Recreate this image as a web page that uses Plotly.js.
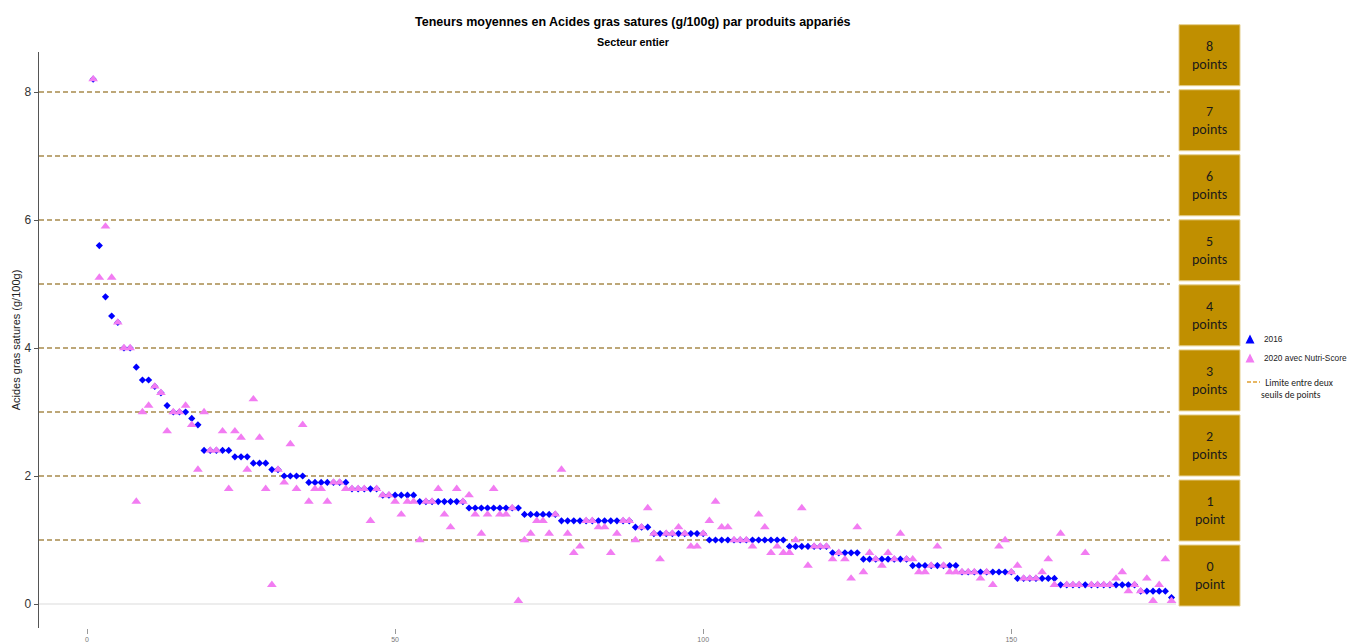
<!DOCTYPE html>
<html>
<head>
<meta charset="utf-8">
<script src="https://cdn.plot.ly/plotly-3.0.1.min.js"></script>
<style>html,body{margin:0;padding:0;background:#fff;}#chart{width:1348px;height:643px;}</style>
</head>
<body>
<div id="chart"></div>
<script>
// ---- data ----
const valeurs2016 = [
  8.2,5.6,4.8,4.5,4.4,4.0,4.0,3.7,3.5,3.5,
  3.4,3.3,3.1,3.0,3.0,3.0,2.9,2.8,2.4,2.4,
  2.4,2.4,2.4,2.3,2.3,2.3,2.2,2.2,2.2,2.1,
  2.1,2.0,2.0,2.0,2.0,1.9,1.9,1.9,1.9,1.9,
  1.9,1.9,1.8,1.8,1.8,1.8,1.8,1.7,1.7,1.7,
  1.7,1.7,1.7,1.6,1.6,1.6,1.6,1.6,1.6,1.6,
  1.6,1.5,1.5,1.5,1.5,1.5,1.5,1.5,1.5,1.5,
  1.4,1.4,1.4,1.4,1.4,1.4,1.3,1.3,1.3,1.3,
  1.3,1.3,1.3,1.3,1.3,1.3,1.3,1.3,1.2,1.2,
  1.2,1.1,1.1,1.1,1.1,1.1,1.1,1.1,1.1,1.1,
  1.0,1.0,1.0,1.0,1.0,1.0,1.0,1.0,1.0,1.0,
  1.0,1.0,1.0,0.9,0.9,0.9,0.9,0.9,0.9,0.9,
  0.8,0.8,0.8,0.8,0.8,0.7,0.7,0.7,0.7,0.7,
  0.7,0.7,0.7,0.6,0.6,0.6,0.6,0.6,0.6,0.6,
  0.6,0.5,0.5,0.5,0.5,0.5,0.5,0.5,0.5,0.5,
  0.4,0.4,0.4,0.4,0.4,0.4,0.4,0.3,0.3,0.3,
  0.3,0.3,0.3,0.3,0.3,0.3,0.3,0.3,0.3,0.3,
  0.2,0.2,0.2,0.2,0.2,0.1
];
const valeurs2020 = [
  8.2,5.1,5.9,5.1,4.4,4.0,4.0,1.6,3.0,3.1,
  3.4,3.3,2.7,3.0,3.0,3.1,2.8,2.1,3.0,2.4,
  2.4,2.7,1.8,2.7,2.6,2.1,3.2,2.6,1.8,0.3,
  2.1,1.9,2.5,1.8,2.8,1.6,1.8,1.8,1.6,1.9,
  1.9,1.8,1.8,1.8,1.8,1.3,1.8,1.7,1.7,1.6,
  1.4,1.6,1.6,1.0,1.6,1.6,1.8,1.4,1.2,1.8,
  1.6,1.7,1.4,1.1,1.4,1.8,1.4,1.4,1.5,0.05,
  1.0,1.1,1.3,1.3,1.1,1.4,2.1,1.1,0.8,0.9,
  1.3,1.3,1.2,1.2,0.8,1.1,1.3,1.3,1.0,1.2,
  1.5,1.1,0.7,1.1,1.1,1.2,1.1,0.9,0.9,1.1,
  1.3,1.6,1.2,1.2,1.0,1.0,1.0,0.9,1.4,1.2,
  0.8,0.9,0.8,0.8,1.0,1.5,0.6,0.9,0.9,0.9,
  0.7,0.8,0.7,0.4,1.2,0.5,0.8,0.7,0.6,0.8,
  0.7,1.1,0.7,0.7,0.5,0.5,0.6,0.9,0.6,0.5,
  0.5,0.5,0.5,0.5,0.4,0.5,0.3,0.9,1.0,0.5,
  0.6,0.4,0.4,0.4,0.5,0.7,0.3,1.1,0.3,0.3,
  0.3,0.8,0.3,0.3,0.3,0.3,0.4,0.5,0.2,0.3,
  0.2,0.4,0.05,0.3,0.7,0.05
];
const produits = valeurs2016.map((_, i) => i + 1);
const seuils = [1, 2, 3, 4, 5, 6, 7, 8];
const niveauxPoints = [0, 1, 2, 3, 4, 5, 6, 7, 8];
const etiquettesPoints = ["0<br>point", "1<br>point", "2<br>points", "3<br>points", "4<br>points",
                          "5<br>points", "6<br>points", "7<br>points", "8<br>points"];
const nomsSeries = ["2016", "2020 avec Nutri-Score", "Limite entre deux<br>seuils de points"];
const xTicks = [0, 50, 100, 150];
const yTicks = [0, 2, 4, 6, 8];

// ---- layout geometry (pixels) ----
const W = 1348, H = 643;
const L = 39, R = 1176, T = 52, B = 628;
const PW = R - L, PH = B - T;
const px2x = px => (px - L) / PW;
const py2y = py => (B - py) / PH;

const gold = '#C08F00';
const lineGold = '#A88B4C';
const violet = '#F27CF2';
const fontArial = '"Liberation Sans", Arial, sans-serif';
const fontCal = 'Carlito, "Noto Sans", sans-serif';

const traces = [
  {
    x: produits, y: valeurs2016, type: 'scatter', mode: 'markers', name: nomsSeries[0],
    marker: {symbol: 'diamond', size: 5.5, color: '#0000FF'}, showlegend: false, cliponaxis: false
  },
  {
    x: produits, y: valeurs2020, type: 'scatter', mode: 'markers', name: nomsSeries[1],
    marker: {symbol: 'triangle-up', size: 8.5, color: violet}, showlegend: false, cliponaxis: false
  }
];

const shapes = [];
const annotations = [];

// threshold lines
seuils.forEach(s => {
  shapes.push({type: 'line', xref: 'paper', yref: 'y', x0: 0, x1: px2x(1170), y0: s, y1: s,
    line: {color: lineGold, width: 1.6, dash: '5px,3px'}, layer: 'below'});
});

// points boxes
niveauxPoints.forEach((k, i) => {
  const top = 24.7 + (8 - k) * 65.04;
  const bot = top + 61;
  shapes.push({type: 'rect', xref: 'paper', yref: 'paper', x0: px2x(1179), x1: px2x(1240),
    y0: py2y(bot), y1: py2y(top), fillcolor: gold, line: {color: '#E6CF8E', width: 1}});
  annotations.push({xref: 'paper', yref: 'paper', x: px2x(1209.5), y: py2y((top + bot) / 2),
    xanchor: 'center', yanchor: 'middle',
    text: etiquettesPoints[i], showarrow: false, align: 'center',
    font: {family: fontCal, size: 14, color: '#1A1A1A'}});
});

// title + subtitle
annotations.push({xref: 'paper', yref: 'paper', x: px2x(633), y: py2y(22), xanchor: 'center', yanchor: 'middle',
  text: '<b>Teneurs moyennes en Acides gras satures (g/100g) par produits appariés</b>', showarrow: false,
  font: {family: fontArial, size: 12.5, color: '#000'}});
annotations.push({xref: 'paper', yref: 'paper', x: px2x(633), y: py2y(42), xanchor: 'center', yanchor: 'middle',
  text: '<b>Secteur entier</b>', showarrow: false,
  font: {family: fontArial, size: 10.8, color: '#000'}});

// manual legend
function tri(cx, cy, w, h, color) {
  const x0 = px2x(cx - w / 2), x1 = px2x(cx + w / 2), xm = px2x(cx);
  const yb = py2y(cy + h / 2), yt = py2y(cy - h / 2);
  shapes.push({type: 'path', xref: 'paper', yref: 'paper',
    path: `M ${x0} ${yb} L ${x1} ${yb} L ${xm} ${yt} Z`, fillcolor: color, line: {width: 0}});
}
tri(1250, 339, 9, 9, '#0000FF');
tri(1250, 358, 9, 9, violet);
shapes.push({type: 'line', xref: 'paper', yref: 'paper', x0: px2x(1247), x1: px2x(1260),
  y0: py2y(382), y1: py2y(382), line: {color: '#E0A030', width: 1.5, dash: '4px,2px'}});
annotations.push({xref: 'paper', yref: 'paper', x: px2x(1262), y: py2y(339), xanchor: 'left', yanchor: 'middle',
  text: nomsSeries[0], showarrow: false,
  font: {family: fontArial, size: 8.3, color: '#222'}});
annotations.push({xref: 'paper', yref: 'paper', x: px2x(1262), y: py2y(358), xanchor: 'left', yanchor: 'middle',
  text: nomsSeries[1], showarrow: false,
  font: {family: fontArial, size: 8.3, color: '#222'}});
annotations.push({xref: 'paper', yref: 'paper', x: px2x(1259), y: py2y(389), xanchor: 'left', yanchor: 'middle',
  text: '  Limite entre deux<br>seuils de points', showarrow: false, align: 'left',
  font: {family: fontCal, size: 9.5, color: '#222'}});

const layout = {
  width: W, height: H,
  margin: {l: L, r: W - R, t: T, b: H - B, pad: 0},
  paper_bgcolor: '#fff', plot_bgcolor: '#fff',
  showlegend: false,
  xaxis: {
    range: [(L - 87) / 6.162, (R - 87) / 6.162],
    tickvals: xTicks, ticktext: xTicks.map(String),
    ticks: 'outside', ticklen: 5, tickcolor: '#999', tickwidth: 1,
    showline: false, showgrid: false, zeroline: false,
    tickfont: {family: fontArial, size: 7, color: '#777'}
  },
  yaxis: {
    range: [-0.375, 8.625],
    tickvals: yTicks, ticktext: yTicks.map(String),
    ticks: 'outside', ticklen: 4, tickcolor: '#555', tickwidth: 1,
    showline: true, linecolor: '#555', linewidth: 1.5,
    showgrid: false, zeroline: true, zerolinecolor: '#EDEDED', zerolinewidth: 2,
    tickfont: {family: fontArial, size: 12, color: '#333'},
    title: {text: 'Acides gras satures (g/100g)', standoff: 1,
      font: {family: fontArial, size: 11, color: '#222'}}
  },
  shapes: shapes,
  annotations: annotations
};

Plotly.newPlot('chart', traces, layout, {displayModeBar: false, staticPlot: true});
</script>
</body>
</html>
